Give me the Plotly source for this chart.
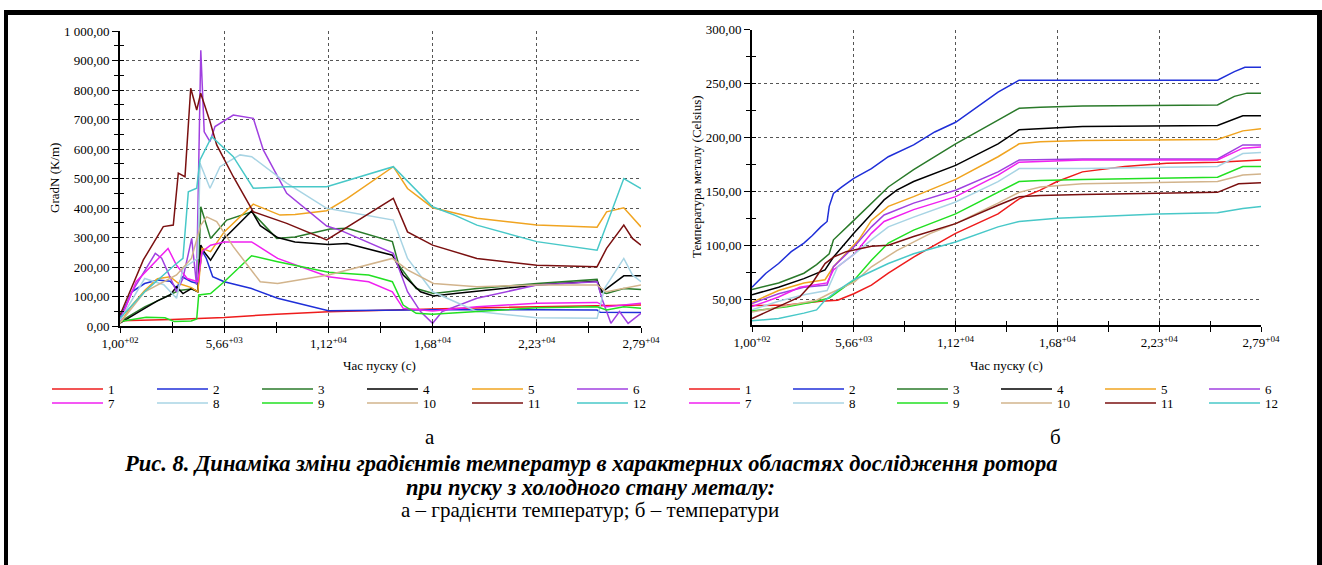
import plotly.graph_objects as go

W, H = 1322, 565
FONT = "Liberation Serif"

# ---------------- data: (a) temperature gradients GradN (K/m) vs time (s) ----------------
grad_t_1 = [100, 2880, 5660, 8440, 11220, 14000, 16780, 19560, 22340, 25120, 27900]
grad_v_1 = [18, 22, 29, 40, 48, 54, 58, 62, 65, 68, 71]

grad_t_2 = [100, 168, 735, 1416, 2097, 2777, 3118, 3413, 3912, 4252, 4479, 4706, 5046, 5660, 7120, 8510, 11220, 16780, 22340, 25557, 25718, 27900]
grad_v_2 = [30, 37, 116, 144, 156, 152, 127, 167, 150, 144, 255, 229, 167, 150, 127, 94, 52, 55, 55, 54, 47, 46]

grad_t_3 = [100, 735, 1416, 2097, 2777, 3231, 3912, 4252, 4411, 4933, 5793, 7127, 8461, 9437, 11305, 12212, 14634, 14980, 15903, 16826, 19143, 22340, 25557, 25718, 26063, 26982, 27900]
grad_v_3 = [15, 40, 65, 85, 105, 120, 125, 118, 404, 297, 359, 387, 297, 302, 329, 331, 286, 206, 127, 110, 127, 144, 158, 116, 110, 127, 124]

grad_t_4 = [100, 735, 1416, 2097, 2777, 3118, 3458, 3912, 4252, 4411, 4593, 4933, 5660, 7127, 7583, 8510, 9437, 11220, 12212, 14634, 15211, 16134, 16826, 17985, 22340, 25557, 25833, 26982, 27900]
grad_v_4 = [10, 35, 60, 85, 105, 133, 110, 127, 116, 274, 251, 223, 297, 390, 340, 300, 285, 276, 280, 240, 173, 116, 102, 110, 139, 152, 116, 170, 170]

grad_t_5 = [100, 735, 1416, 2097, 2777, 3231, 3912, 4252, 4479, 4933, 5660, 7213, 8638, 9437, 11130, 12212, 14683, 15442, 16780, 19143, 22340, 25557, 26063, 26982, 27900]
grad_v_5 = [10, 70, 120, 160, 167, 144, 130, 116, 263, 252, 319, 413, 376, 378, 391, 432, 540, 466, 401, 365, 342, 335, 387, 401, 336]

grad_t_6 = [100, 735, 1983, 2324, 3118, 3458, 3926, 4184, 4411, 4593, 4902, 5169, 6146, 7213, 7747, 8995, 11130, 11840, 14683, 15442, 16134, 16780, 17290, 19143, 22340, 25557, 25833, 26293, 26752, 27212, 27900]
grad_v_6 = [20, 116, 246, 230, 116, 161, 297, 139, 935, 658, 625, 676, 715, 704, 597, 450, 339, 325, 246, 116, 49, 9, 49, 94, 139, 150, 90, 9, 49, 9, 43]

grad_t_7 = [100, 962, 2664, 3118, 3685, 4252, 4479, 4933, 5660, 7120, 8510, 11220, 13366, 14634, 15211, 16780, 19143, 22340, 25557, 26063, 27900]
grad_v_7 = [15, 150, 263, 206, 161, 150, 252, 274, 285, 285, 229, 167, 150, 116, 60, 51, 65, 77, 80, 65, 77]

grad_t_8 = [100, 1416, 2437, 3118, 3458, 4252, 4369, 4902, 5436, 6503, 7127, 8995, 11130, 14683, 15442, 16780, 19143, 22340, 25557, 25948, 26982, 27442, 27900]
grad_v_8 = [20, 161, 140, 94, 195, 229, 552, 467, 540, 580, 574, 484, 399, 359, 229, 116, 49, 28, 26, 127, 229, 173, 150]

grad_t_9 = [100, 1000, 1500, 2500, 3000, 3900, 4193, 4300, 4933, 5660, 7120, 8510, 11220, 13366, 14634, 15211, 15903, 16780, 19143, 22340, 25557, 26063, 26982, 27900]
grad_v_9 = [15, 25, 30, 28, 15, 17, 24, 105, 110, 150, 238, 218, 182, 173, 150, 71, 43, 40, 49, 62, 65, 54, 65, 60]

grad_t_10 = [100, 1416, 3118, 3912, 4411, 4727, 5260, 6146, 7583, 8510, 11220, 14634, 15442, 16826, 19143, 22340, 25557, 26063, 27900]
grad_v_10 = [10, 116, 173, 229, 342, 370, 354, 269, 150, 144, 173, 229, 190, 144, 133, 139, 139, 116, 139]

grad_t_11 = [100, 1345, 2411, 2944, 3211, 3568, 3873, 4193, 4406, 4902, 5260, 6146, 7213, 8995, 11130, 14683, 15442, 16780, 19143, 22340, 25557, 26063, 26982, 27442, 27900]
grad_v_11 = [37, 224, 337, 342, 518, 506, 806, 732, 789, 693, 614, 506, 387, 348, 292, 433, 319, 274, 229, 206, 201, 263, 342, 297, 274]

grad_t_12 = [100, 1416, 3004, 3458, 3746, 4193, 4369, 4993, 6146, 7213, 8995, 11130, 14683, 16780, 17985, 19143, 22340, 25557, 26982, 27900]
grad_v_12 = [26, 116, 206, 229, 455, 467, 563, 642, 574, 467, 472, 472, 540, 404, 375, 342, 286, 257, 500, 466]

# ---------------- data: (b) metal temperature (Celsius) vs time (s) ----------------
temp_t_1 = [100, 2013, 3857, 4779, 5660, 6623, 7545, 8928, 11220, 13538, 14691, 15843, 16765, 18148, 20453, 22758, 25524, 27900]
temp_v_1 = [44, 44.5, 48, 49, 55, 63, 74, 89, 111, 129, 143, 151, 159, 168, 173, 176, 177, 179]

temp_t_2 = [100, 861, 1552, 2244, 2935, 3396, 3857, 4203, 4318, 4549, 5010, 5660, 6623, 7545, 8928, 10081, 11220, 12386, 13538, 14691, 18148, 25524, 26446, 27022, 27900]
temp_v_2 = [61, 74, 83, 94, 102, 109, 117, 122, 136, 148, 154, 162, 171, 182, 193, 205, 214, 228, 242, 253, 253, 253, 261, 265, 265]

temp_t_3 = [100, 1552, 2935, 3627, 4318, 4549, 5660, 6623, 7545, 8928, 11220, 13538, 14691, 15843, 18148, 25524, 26446, 27138, 27900]
temp_v_3 = [59, 65, 74, 82, 92, 105, 123, 139, 154, 170, 194, 216, 227, 228, 229, 230, 238, 241, 241]

temp_t_4 = [100, 1552, 2935, 4088, 4549, 5660, 6623, 7315, 8006, 8928, 11220, 13538, 14691, 15843, 18148, 25524, 26907, 27900]
temp_v_4 = [54, 61, 69, 77, 89, 111, 129, 142, 151, 159, 174, 194, 207, 208, 210, 211, 220, 220]

temp_t_5 = [100, 1552, 2935, 4088, 4549, 5240, 5932, 6623, 7545, 8928, 11220, 13538, 14691, 15843, 18148, 25524, 26907, 27900]
temp_v_5 = [47, 58, 65, 68, 80, 92, 105, 123, 136, 145, 161, 182, 194, 196, 197, 198, 206, 208]

temp_t_6 = [100, 1552, 2935, 4203, 4549, 5701, 6623, 7315, 8928, 11220, 13538, 14691, 18148, 25524, 26907, 27900]
temp_v_6 = [46, 55, 61, 63, 80, 99, 117, 128, 139, 151, 168, 179, 180, 180, 193, 193]

temp_t_7 = [100, 1552, 2705, 4203, 4549, 5701, 6623, 7315, 8928, 11220, 13538, 14691, 18148, 25524, 26907, 27900]
temp_v_7 = [43, 52, 61, 65, 77, 92, 111, 122, 133, 145, 165, 177, 179, 179, 190, 191]

temp_t_8 = [100, 1552, 2935, 4203, 4779, 5701, 6623, 7545, 8928, 11220, 13538, 14691, 18148, 25524, 26907, 27900]
temp_v_8 = [40, 48, 54, 58, 80, 92, 105, 117, 126, 140, 159, 171, 171, 173, 185, 186]

temp_t_9 = [100, 2013, 3627, 4318, 5701, 6623, 7545, 8928, 11220, 13538, 14691, 15843, 18148, 25524, 26907, 27900]
temp_v_9 = [39, 43, 48, 51, 68, 86, 102, 114, 129, 149, 159, 160, 161, 163, 173, 173]

temp_t_10 = [100, 2013, 3627, 4318, 5701, 6623, 8006, 9850, 11220, 13538, 14691, 15843, 18148, 25524, 26907, 27900]
temp_v_10 = [38, 44, 49, 55, 66, 80, 95, 111, 120, 139, 149, 154, 157, 159, 165, 166]

temp_t_11 = [100, 1552, 2705, 3396, 4088, 4549, 5240, 6623, 7545, 8928, 11220, 13538, 14691, 15843, 18148, 25524, 26677, 27900]
temp_v_11 = [32, 43, 52, 65, 83, 89, 94, 99, 100, 108, 120, 137, 145, 146, 147, 149, 157, 158]

temp_t_12 = [100, 1552, 2935, 3627, 4088, 4779, 5660, 7545, 8928, 11220, 13538, 14691, 16765, 18148, 22297, 25524, 26907, 27900]
temp_v_12 = [30, 32, 37, 40, 49, 58, 68, 83, 92, 103, 117, 122, 125, 126, 129, 130, 134, 136]

series_names = ["1", "2", "3", "4", "5", "6", "7", "8", "9", "10", "11", "12"]
series_colors = ["#ee1c1c", "#1f2fd8", "#2a7a2a", "#000000", "#f0a420", "#a040e0",
                 "#f020f0", "#a8d4e4", "#22e022", "#d2b48c", "#7a1010", "#48c8c8"]

# ticks
x_tick_vals = [100, 5660, 11220, 16780, 22340, 27900]
x_tick_text = ["1,00<sup>+02</sup>", "5,66<sup>+03</sup>", "1,12<sup>+04</sup>",
               "1,68<sup>+04</sup>", "2,23<sup>+04</sup>", "2,79<sup>+04</sup>"]
x_minor_vals = [2880, 8440, 14000, 19560, 25120]
grad_tick_vals = [0, 100, 200, 300, 400, 500, 600, 700, 800, 900, 1000]
grad_tick_text = ["0,00", "100,00", "200,00", "300,00", "400,00", "500,00",
                  "600,00", "700,00", "800,00", "900,00", "1 000,00"]
grad_minor_vals = [50, 150, 250, 350, 450, 550, 650, 750, 850, 950]
temp_tick_vals = [50, 100, 150, 200, 250, 300]
temp_tick_text = ["50,00", "100,00", "150,00", "200,00", "250,00", "300,00"]
temp_minor_vals = [75, 125, 175, 225, 275]

grad_t = [grad_t_1, grad_t_2, grad_t_3, grad_t_4, grad_t_5, grad_t_6,
          grad_t_7, grad_t_8, grad_t_9, grad_t_10, grad_t_11, grad_t_12]
grad_v = [grad_v_1, grad_v_2, grad_v_3, grad_v_4, grad_v_5, grad_v_6,
          grad_v_7, grad_v_8, grad_v_9, grad_v_10, grad_v_11, grad_v_12]
temp_t = [temp_t_1, temp_t_2, temp_t_3, temp_t_4, temp_t_5, temp_t_6,
          temp_t_7, temp_t_8, temp_t_9, temp_t_10, temp_t_11, temp_t_12]
temp_v = [temp_v_1, temp_v_2, temp_v_3, temp_v_4, temp_v_5, temp_v_6,
          temp_v_7, temp_v_8, temp_v_9, temp_v_10, temp_v_11, temp_v_12]


def px(p):
    return p / W


def py(p):
    return 1 - p / H


fig = go.Figure()
for i in range(12):
    fig.add_trace(go.Scatter(
        x=grad_t[i], y=grad_v[i], mode="lines", name=series_names[i],
        line=dict(color=series_colors[i], width=1.5),
        xaxis="x", yaxis="y", legend="legend" if i < 6 else "legend2",
        hoverinfo="skip"))
for i in range(12):
    fig.add_trace(go.Scatter(
        x=temp_t[i], y=temp_v[i], mode="lines", name=series_names[i],
        line=dict(color=series_colors[i], width=1.5),
        xaxis="x2", yaxis="y2", legend="legend3" if i < 6 else "legend4",
        hoverinfo="skip"))
# helper traces for the inner half of the crossing ticks
fig.add_trace(go.Scatter(x=[None], y=[None], xaxis="x3", yaxis="y3", showlegend=False, hoverinfo="skip"))
fig.add_trace(go.Scatter(x=[None], y=[None], xaxis="x4", yaxis="y4", showlegend=False, hoverinfo="skip"))

tickfont = dict(family=FONT, size=13, color="black")
grid = dict(showgrid=True, gridcolor="#555555", griddash="3px,3px", gridwidth=1)


def xaxis_main(domain, anchor):
    return dict(domain=domain, anchor=anchor, range=[100, 27900], automargin=False,
                tickmode="array", tickvals=x_tick_vals, ticktext=x_tick_text,
                ticks="outside", ticklen=5, tickwidth=1.4, tickcolor="black",
                showline=True, linecolor="black", linewidth=1.6, zeroline=False,
                tickfont=tickfont, **grid,
                minor=dict(tickmode="array", tickvals=x_minor_vals, ticks="outside",
                           ticklen=5, tickwidth=1.4, tickcolor="black", showgrid=False))


def yaxis_main(domain, anchor, rng, vals, text, minor_vals):
    return dict(domain=domain, anchor=anchor, range=rng, automargin=False,
                tickmode="array", tickvals=vals, ticktext=text,
                ticks="outside", ticklen=6, tickwidth=1.4, tickcolor="black",
                showline=True, linecolor="black", linewidth=1.6, zeroline=False,
                tickfont=tickfont, **grid,
                minor=dict(tickmode="array", tickvals=minor_vals, ticks="outside",
                           ticklen=4, tickwidth=1.4, tickcolor="black", showgrid=False))


def x_inner(overlay, anchor):
    return dict(overlaying=overlay, anchor=anchor, range=[100, 27900], automargin=False,
                tickmode="array", tickvals=x_tick_vals + x_minor_vals,
                ticks="inside", ticklen=4, tickwidth=1.4, tickcolor="black",
                showticklabels=False, showgrid=False, showline=False, zeroline=False)


def y_inner(overlay, anchor, rng, vals):
    return dict(overlaying=overlay, anchor=anchor, range=rng, automargin=False,
                tickmode="array", tickvals=vals,
                ticks="inside", ticklen=4, tickwidth=1.4, tickcolor="black",
                showticklabels=False, showgrid=False, showline=False, zeroline=False)


dom_x1 = [px(120), px(641)]
dom_y1 = [py(326), py(31)]
dom_x2 = [px(752), px(1261)]
dom_y2 = [py(325), py(29.5)]

grad_range = [0, 1000]
temp_range = [26, 300]

legend_common = dict(orientation="h", xanchor="left", yanchor="middle",
                     entrywidthmode="pixels", itemwidth=51, tracegroupgap=0,
                     bgcolor="rgba(0,0,0,0)", borderwidth=0,
                     font=dict(family=FONT, size=13, color="black"),
                     itemclick=False, itemdoubleclick=False)

fig.update_layout(
    width=W, height=H,
    margin=dict(l=0, r=0, t=0, b=0, pad=0, autoexpand=False),
    paper_bgcolor="white", plot_bgcolor="white",
    font=dict(family=FONT, color="black"),
    xaxis=xaxis_main(dom_x1, "y"),
    yaxis=yaxis_main(dom_y1, "x", grad_range, grad_tick_vals, grad_tick_text, grad_minor_vals),
    xaxis2=xaxis_main(dom_x2, "y2"),
    yaxis2=yaxis_main(dom_y2, "x2", temp_range, temp_tick_vals, temp_tick_text, temp_minor_vals),
    xaxis3=x_inner("x", "y3"),
    yaxis3=y_inner("y", "x3", grad_range, grad_tick_vals + grad_minor_vals),
    xaxis4=x_inner("x2", "y4"),
    yaxis4=y_inner("y2", "x4", temp_range, temp_tick_vals + temp_minor_vals),
    legend=dict(legend_common, x=px(47), y=py(389), entrywidth=39),
    legend2=dict(legend_common, x=px(47), y=py(403), entrywidth=39),
    legend3=dict(legend_common, x=px(684), y=py(389), entrywidth=38),
    legend4=dict(legend_common, x=px(684), y=py(403), entrywidth=38),
    showlegend=True,
)

annotations = [
    dict(text="GradN (K/m)", x=px(54), y=py(178), textangle=-90),
    dict(text="Температура металу (Celsius)", x=px(697), y=py(177), textangle=-90),
    dict(text="Час пуску (с)", x=px(380), y=py(365)),
    dict(text="Час пуску (с)", x=px(1006), y=py(365)),
]
for a in annotations:
    fig.add_annotation(xref="paper", yref="paper", showarrow=False,
                       xanchor="center", yanchor="middle",
                       font=dict(family=FONT, size=13, color="black"), **a)

captions = [
    dict(text="а", x=px(430), y=py(437), size=21),
    dict(text="б", x=px(1055), y=py(437), size=21),
    dict(text="<b><i>Рис. 8. Динаміка зміни градієнтів температур в характерних областях дослідження ротора</i></b>",
         x=px(590), y=py(463), size=22.5),
    dict(text="<b><i>при пуску з холодного стану металу:</i></b>", x=px(590), y=py(487), size=22.5),
    dict(text="а – градієнти температур; б – температури", x=px(590), y=py(510), size=21),
]
for c in captions:
    fig.add_annotation(xref="paper", yref="paper", showarrow=False,
                       xanchor="center", yanchor="middle", text=c["text"], x=c["x"], y=c["y"],
                       font=dict(family=FONT, size=c["size"], color="black"))

# black frame around the figure
frame = [
    (4, 10, 1322, 15),
    (4, 10, 8, 565),
    (1317, 10, 1322, 565),
]
for x0, y0, x1, y1 in frame:
    fig.add_shape(type="rect", xref="paper", yref="paper",
                  x0=px(x0), x1=px(x1), y0=py(y1), y1=py(y0),
                  fillcolor="black", line=dict(width=0), layer="above")

fig.write_html("out.html", config={"displayModeBar": False},
               post_script="document.body.style.margin='0';")
